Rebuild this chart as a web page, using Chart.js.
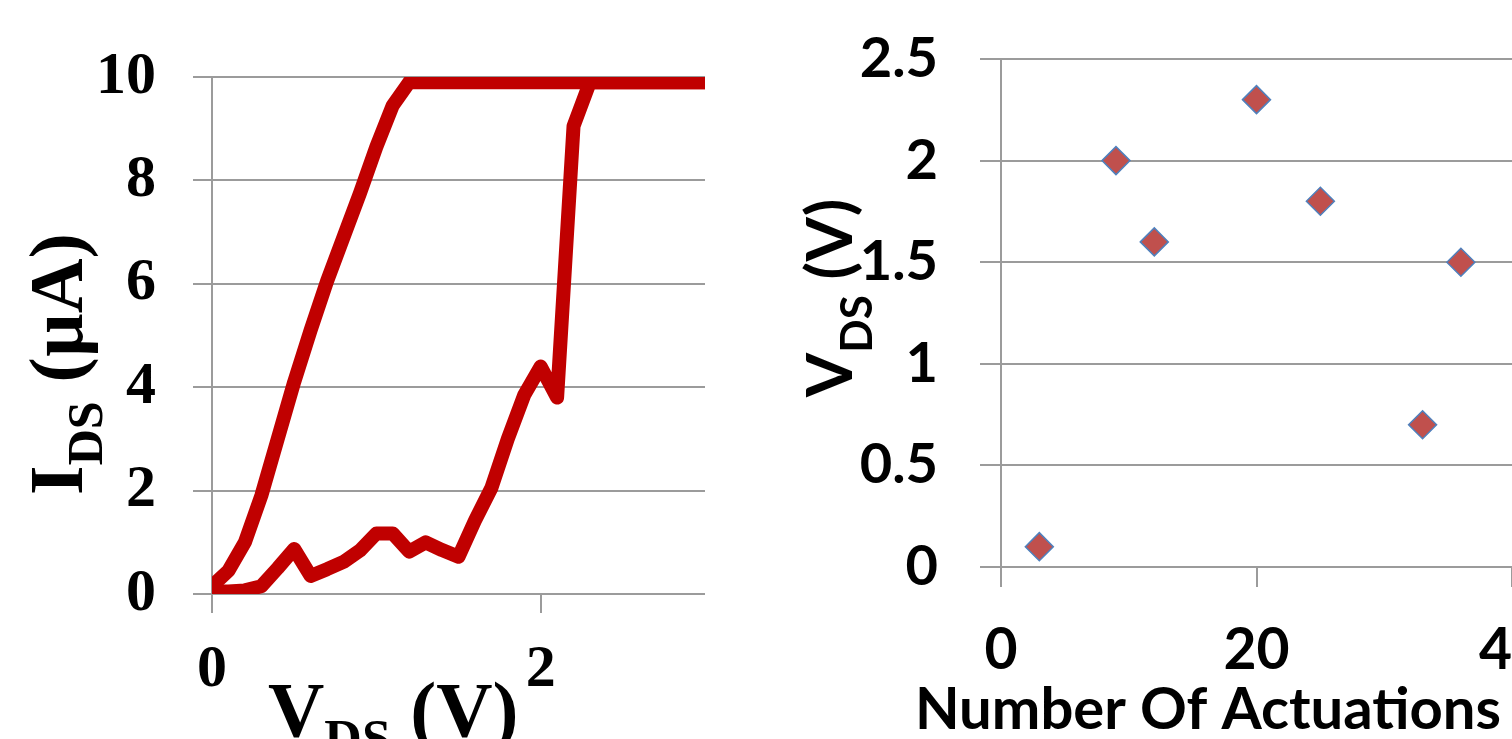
<!DOCTYPE html>
<html>
<head>
<meta charset="utf-8">
<script src="https://cdn.jsdelivr.net/npm/chart.js@4.4.1/dist/chart.umd.min.js"></script>
<style>
  html, body { margin: 0; padding: 0; background: #fff; overflow: hidden; width: 1512px; height: 739px; }
  .panel { position: absolute; top: 0; height: 739px; }
  #panelIV  { left: 0;     width: 756px; }
  #panelAct { left: 756px; width: 856px; }
</style>
</head>
<body>
<div class="panel" id="panelIV"><canvas id="ivChart"></canvas></div>
<div class="panel" id="panelAct"><canvas id="actChart"></canvas></div>
<script>
// ---- I-V hysteresis sweep (V in volts, I in µA) ----
const upSweepV   = [0, 0.1, 0.2, 0.3, 0.4, 0.5, 0.6, 0.7, 0.8, 0.9, 1.0, 1.1, 1.2, 1.3, 1.4, 1.5,
                    1.6, 1.7, 1.8, 1.9, 2.0, 2.1, 2.2, 2.3, 2.4, 2.5, 2.6, 2.7, 2.8, 2.9, 3.0];
const upSweepI   = [0.05, 0.05, 0.07, 0.15, 0.5, 0.87, 0.35, 0.48, 0.62, 0.84, 1.17, 1.17, 0.82, 1.0, 0.85, 0.72,
                    1.42, 2.05, 3.0, 3.85, 4.4, 3.8, 9.05, 9.9, 9.9, 9.9, 9.9, 9.9, 9.9, 9.9, 9.9];
const downSweepV = [3.0, 2.9, 2.8, 2.7, 2.6, 2.5, 2.4, 2.3, 2.2, 2.1, 2.0, 1.9, 1.8, 1.7, 1.6, 1.5,
                    1.4, 1.3, 1.2, 1.1, 1.0, 0.9, 0.8, 0.7, 0.6, 0.5, 0.4, 0.3, 0.2, 0.1, 0];
const downSweepI = [9.9, 9.9, 9.9, 9.9, 9.9, 9.9, 9.9, 9.9, 9.9, 9.9, 9.9, 9.9, 9.9, 9.9, 9.9, 9.9,
                    9.9, 9.9, 9.9, 9.45, 8.65, 7.75, 6.9, 6.05, 5.1, 4.1, 3.0, 1.9, 1.0, 0.45, 0.15];
const ivTicksV = [0, 2];
const ivTicksI = [0, 2, 4, 6, 8, 10];

// ---- switching voltage against cycle count ----
const actuationCount = [3, 9, 12, 20, 25, 33, 36];
const switchVoltage  = [0.1, 2.0, 1.6, 2.3, 1.8, 0.7, 1.5];
const cycleTicks   = [0, 20, 40];
const voltageTicks = [0, 0.5, 1, 1.5, 2, 2.5];

const GRID = '#9b9b9b';
const RED = '#C00000';
const SERIF = '"Liberation Serif", "Times New Roman", serif';
const SANS = 'Lato, "Open Sans", sans-serif';

const toPoints = (xs, ys) => xs.map((x, i) => ({ x, y: ys[i] }));
const fixedTicks = list => scale => { scale.ticks = list.map(v => ({ value: v })); };
// pin an axis to a fixed thickness and keep its label overhang out of the layout
const fixedSize = size => scale => {
  if (scale.isHorizontal()) scale.height = size; else scale.width = size;
  scale.paddingTop = scale.paddingBottom = scale.paddingLeft = scale.paddingRight = 0;
};

// Draws a run of text pieces (base text + subscripts) from an anchor,
// optionally rotated; align 'center' or 'left'.
function drawRich(ctx, pieces, x, y, rotation, align) {
  ctx.save();
  ctx.translate(x, y);
  ctx.rotate(rotation);
  ctx.fillStyle = '#000';
  ctx.textBaseline = 'alphabetic';
  ctx.textAlign = 'left';
  let total = 0;
  const widths = pieces.map(p => { ctx.font = p.font; const w = ctx.measureText(p.text).width; total += w; return w; });
  let cx = align === 'center' ? -total / 2 : 0;
  pieces.forEach((p, i) => {
    ctx.font = p.font;
    ctx.fillText(p.text, cx, p.dy || 0);
    cx += widths[i];
  });
  ctx.restore();
}

const axisTitles = {
  id: 'axisTitles',
  afterDraw(chart, args, opts) {
    (opts.items || []).forEach(t => drawRich(chart.ctx, t.pieces, t.x, t.y, t.rotation || 0, t.align || 'center'));
  }
};

// ---- left panel: I-V curve ----
new Chart(document.getElementById('ivChart'), {
  type: 'scatter',
  data: {
    datasets: [
      { label: 'up', data: toPoints(upSweepV, upSweepI) },
      { label: 'down', data: toPoints(downSweepV, downSweepI) }
    ]
  },
  options: {
    responsive: true,
    maintainAspectRatio: false,
    animation: false,
    events: [],
    showLine: true,
    elements: {
      point: { radius: 0 },
      line: { borderColor: RED, borderWidth: 14, borderJoinStyle: 'round', borderCapStyle: 'butt', tension: 0 }
    },
    layout: { padding: { top: 77, right: 51, left: 0, bottom: 0 } },
    plugins: {
      legend: { display: false },
      tooltip: { enabled: false },
      axisTitles: {
        items: [
          { x: 82, y: 364, rotation: -Math.PI / 2, pieces: [
              { text: 'I', font: `bold 76px ${SERIF}` },
              { text: 'DS', font: `bold 50px ${SERIF}`, dy: 20 },
              { text: ' (µA)', font: `bold 76px ${SERIF}` } ] },
          { x: 268, y: 736, align: 'left', pieces: [
              { text: 'V', font: `bold 78px ${SERIF}` },
              { text: 'DS', font: `bold 52px ${SERIF}`, dy: 20 },
              { text: ' (V)', font: `bold 78px ${SERIF}` } ] }
        ]
      }
    },
    scales: {
      x: {
        type: 'linear', min: 0, max: 3,
        afterBuildTicks: fixedTicks(ivTicksV),
        afterFit: fixedSize(145),
        border: { display: false },
        grid: { drawOnChartArea: false, drawTicks: true, tickLength: 19, color: GRID, lineWidth: 2 },
        ticks: { color: '#000', padding: 21, maxRotation: 0, autoSkip: false,
                 font: { family: SERIF, weight: 'bold', size: 60 }, callback: v => String(v) }
      },
      y: {
        type: 'linear', min: 0, max: 10,
        afterBuildTicks: fixedTicks(ivTicksI),
        afterFit: fixedSize(212),
        border: { display: true, color: GRID, width: 2 },
        grid: { color: GRID, lineWidth: 2, tickLength: 19 },
        ticks: { color: '#000', padding: 37, autoSkip: false,
                 font: { family: SERIF, weight: 'bold', size: 60 }, callback: v => String(v) }
      }
    }
  },
  plugins: [axisTitles]
});

// ---- right panel: V_DS against number of actuations ----
new Chart(document.getElementById('actChart'), {
  type: 'scatter',
  data: {
    datasets: [{
      label: 'VDS',
      data: toPoints(actuationCount, switchVoltage),
      pointStyle: 'rectRot',
      pointRadius: 14,
      backgroundColor: '#C0504D',
      borderColor: '#4F81BD',
      borderWidth: 1.5
    }]
  },
  options: {
    responsive: true,
    maintainAspectRatio: false,
    animation: false,
    events: [],
    layout: { padding: { top: 59, right: 100, left: 0, bottom: 0 } },
    plugins: {
      legend: { display: false },
      tooltip: { enabled: false },
      axisTitles: {
        items: [
          { x: 852 - 756, y: 298, rotation: -Math.PI / 2, pieces: [
              { text: 'V', font: `bold 64px ${SANS}` },
              { text: 'DS', font: `bold 44px ${SANS}`, dy: 20 },
              { text: ' (V)', font: `bold 64px ${SANS}` } ] },
          { x: 1208 - 756, y: 729, pieces: [ { text: 'Number Of Actuations', font: `bold 58px ${SANS}` } ] }
        ]
      }
    },
    scales: {
      x: {
        type: 'linear', min: 0, max: 40,
        afterBuildTicks: fixedTicks(cycleTicks),
        afterFit: fixedSize(172),
        border: { display: false },
        grid: { drawOnChartArea: false, drawTicks: true, tickLength: 20, color: GRID, lineWidth: 2 },
        ticks: { color: '#000', padding: 29, maxRotation: 0, autoSkip: false,
                 font: { family: SANS, weight: 'bold', size: 57 }, callback: v => String(v) }
      },
      y: {
        type: 'linear', min: 0, max: 2.5,
        afterBuildTicks: fixedTicks(voltageTicks),
        afterFit: fixedSize(245),
        border: { display: true, color: GRID, width: 2 },
        grid: { color: GRID, lineWidth: 2, tickLength: 21 },
        ticks: { color: '#000', padding: 42, autoSkip: false,
                 font: { family: SANS, weight: 'bold', size: 56 }, callback: v => String(v) }
      }
    }
  },
  plugins: [axisTitles]
});
</script>
</body>
</html>
